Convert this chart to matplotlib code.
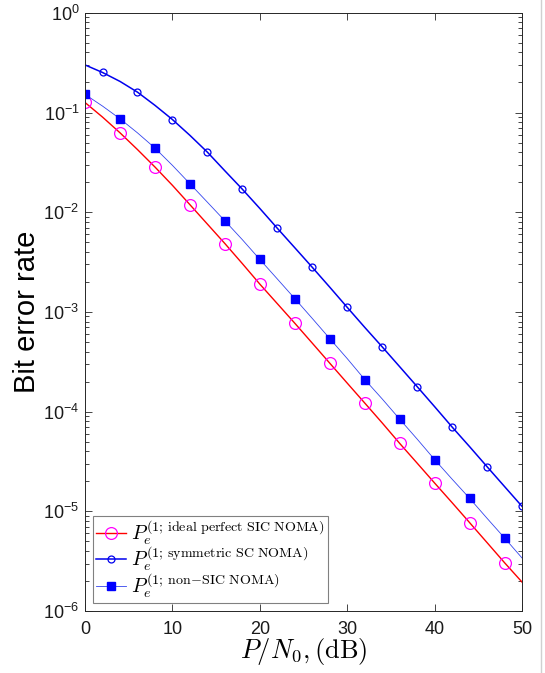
import matplotlib
matplotlib.use("Agg")
import matplotlib.pyplot as plt
import numpy as np
from matplotlib.font_manager import FontProperties
from matplotlib.ticker import LogLocator, FixedLocator, FuncFormatter, NullFormatter
from matplotlib.lines import Line2D

plt.rcParams['font.family'] = ['Liberation Sans', 'DejaVu Sans']
plt.rcParams['mathtext.fontset'] = 'custom'
plt.rcParams['mathtext.rm'] = 'Liberation Sans'
plt.rcParams['mathtext.it'] = 'Liberation Sans:italic'
plt.rcParams['mathtext.bf'] = 'Liberation Sans:bold'

snr_db = [0, 2, 4, 6, 8, 10, 12, 14, 16, 18, 20, 22, 24, 26, 28, 30,
          32, 34, 36, 38, 40, 42, 44, 46, 48, 50]

ber_ideal_sic = [0.126, 0.090, 0.0626, 0.0425, 0.0284, 0.0186, 0.0119, 0.0076,
                 0.00485, 0.00305, 0.0019, 0.00121, 0.00077, 0.000486, 0.000306,
                 0.000193, 0.000122, 7.7e-5, 4.8e-5, 3.04e-5, 1.92e-5, 1.22e-5,
                 7.7e-6, 4.85e-6, 3.05e-6, 1.95e-6]

ber_symmetric_sc = [0.30, 0.252, 0.205, 0.16, 0.118, 0.085, 0.059, 0.040, 0.026,
                    0.017, 0.0109, 0.0069, 0.0044, 0.0028, 0.00177, 0.00111,
                    0.0007, 0.000446, 0.000282, 0.000178, 0.000112, 7.0e-5,
                    4.45e-5, 2.8e-5, 1.77e-5, 1.12e-5]

ber_non_sic = [0.152, 0.116, 0.0865, 0.0625, 0.044, 0.0295, 0.0193, 0.0126,
               0.0082, 0.0053, 0.00336, 0.00214, 0.00136, 0.00086, 0.00054,
               0.00034, 0.00021, 0.000134, 8.4e-5, 5.3e-5, 3.3e-5, 2.1e-5,
               1.35e-5, 8.5e-6, 5.4e-6, 3.4e-6]

labels = [r'$P_e^{(1;\,\mathrm{ideal\ perfect\ SIC\ NOMA})}$',
          r'$P_e^{(1;\,\mathrm{symmetric\ SC\ NOMA})}$',
          r'$P_e^{(1;\,\mathrm{non\!-\!SIC\ NOMA})}$']

x_ticks = [0, 10, 20, 30, 40, 50]

fig = plt.figure(figsize=(5.45, 6.73), dpi=100)
ax = fig.add_axes([0.156, 0.092, 0.802, 0.889])

ax.plot(snr_db, ber_ideal_sic, color='red', lw=1.0, marker='o', markersize=8.5,
        markerfacecolor='none', markeredgecolor='#ff00ff', markeredgewidth=0.9,
        markevery=2, label=labels[0])
ax.plot(snr_db, ber_symmetric_sc, color='#0000ee', lw=1.1, marker='o', markersize=5,
        markerfacecolor='none', markeredgecolor='#0000ee', markeredgewidth=0.9,
        markevery=(1, 2), label=labels[1])
ax.plot(snr_db, ber_non_sic, color='#3344ee', lw=0.6, marker='s', markersize=5.5,
        markerfacecolor='#0000ff', markeredgecolor='#0000ff',
        markevery=2, label=labels[2])

ax.set_yscale('log')
ax.set_xlim(0, 50)
ax.set_ylim(1e-6, 1)
ax.xaxis.set_major_locator(FixedLocator(x_ticks))
ax.yaxis.set_major_locator(LogLocator(base=10, numticks=10))
ax.yaxis.set_minor_locator(LogLocator(base=10, subs=np.arange(2, 10), numticks=20))
ax.yaxis.set_minor_formatter(NullFormatter())
ax.yaxis.set_major_formatter(FuncFormatter(
    lambda v, p: r'$\mathdefault{10^{%d}}$' % int(round(np.log10(v)))))

spine_c = '#262626'
for s in ax.spines.values():
    s.set_color(spine_c)
    s.set_linewidth(0.7)
ax.tick_params(which='both', direction='in', top=True, right=True, colors=spine_c,
               labelcolor='#1a1a1a', width=0.6)
ax.tick_params(which='major', length=5, labelsize=13)
ax.tick_params(which='minor', length=3)
ax.tick_params(axis='x', pad=7)
ax.tick_params(axis='y', pad=4)

ax.set_ylabel('Bit error rate', fontsize=21, labelpad=2)
ax.set_xlabel(r'$P/N_0,\mathrm{(dB)}$', fontsize=19, math_fontfamily='cm', labelpad=-1)

leg = ax.legend(loc='lower left', prop=FontProperties(size=14.5, math_fontfamily='cm'),
                frameon=True, fancybox=False, edgecolor='#808080', framealpha=1,
                borderaxespad=0.4, handlelength=1.5, handletextpad=0.25,
                labelspacing=-0.08, borderpad=0.15)
leg.get_frame().set_linewidth(0.8)

fig.add_artist(Line2D([541/545, 541/545], [0, 1], transform=fig.transFigure,
                      color='#d0d0d0', lw=1.0))

fig.savefig('out.png', dpi=100)
